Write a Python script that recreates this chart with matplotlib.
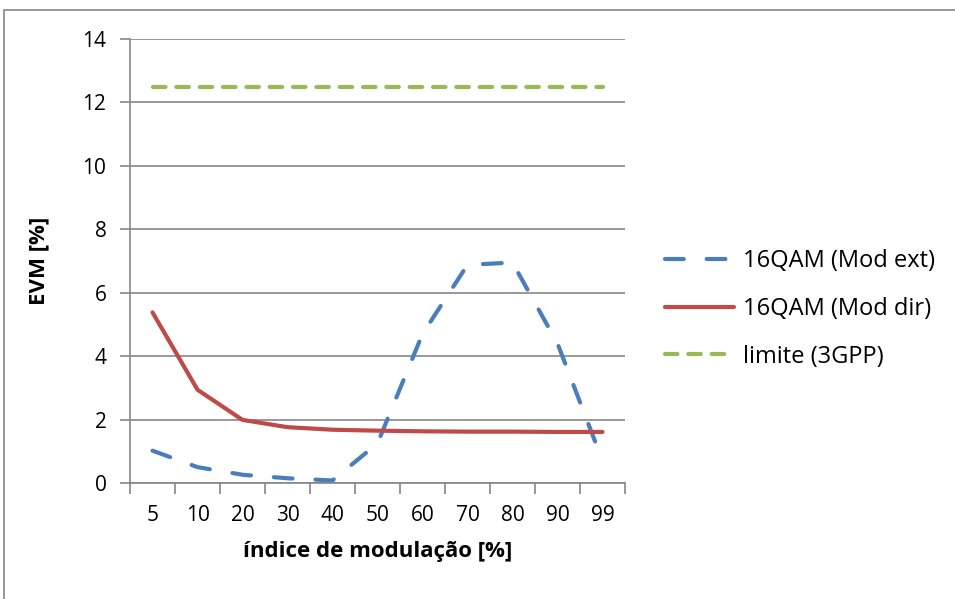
import numpy as np
import matplotlib.pyplot as plt
from matplotlib.patches import Rectangle

categories = ['5', '10', '20', '30', '40', '50', '60', '70', '80', '90', '99']
evm_ext = [1.02, 0.50, 0.26, 0.15, 0.08, 1.25, 4.7, 6.88, 6.95, 4.4, 0.7]
evm_dir = [5.38, 2.94, 1.99, 1.76, 1.68, 1.65, 1.63, 1.62, 1.62, 1.61, 1.61]
limite = [12.5] * len(categories)

plt.rcParams['font.family'] = ['Open Sans', 'DejaVu Sans']
grey = '#868686'
fs = 15

fig = plt.figure(figsize=(9.55, 5.99), dpi=100)
fig.patches.append(Rectangle((4 / 955, -0.1), 1.2, (599 - 10) / 599 + 0.1,
                             transform=fig.transFigure, fill=False,
                             edgecolor=grey, linewidth=1.2))
ax = fig.add_axes([130 / 955, (599 - 483) / 599, 495 / 955, 444 / 599])

x = np.arange(len(categories))
ax.plot(x, evm_ext, color='#4A7EBB', lw=3, dashes=(4.5, 5.5), dash_capstyle='round',
        label='16QAM (Mod ext)')
ax.plot(x, evm_dir, color='#BE4B48', lw=3, solid_capstyle='round',
        label='16QAM (Mod dir)')
ax.plot(x, limite, color='#98B954', lw=3, dashes=(3, 2.6), dash_capstyle='round',
        label='limite (3GPP)')

ax.set_xlim(-0.5, len(categories) - 0.5)
ax.set_ylim(0, 14)
ax.set_yticks(range(0, 15, 2))
ax.set_xticks(x)
ax.set_xticklabels(categories)
ax.set_xticks(np.arange(-0.5, len(categories)), minor=True)
ax.tick_params(axis='x', which='major', length=0, pad=16, labelsize=fs)
ax.tick_params(axis='x', which='minor', length=8, color=grey, width=1.2)
ax.tick_params(axis='y', length=7, color=grey, width=1.2, labelsize=fs, pad=10)
ax.grid(axis='y', color=grey, lw=1.2)
ax.set_axisbelow(True)
for s in ['top', 'right']:
    ax.spines[s].set_visible(False)
for s in ['left', 'bottom']:
    ax.spines[s].set_color(grey)
    ax.spines[s].set_linewidth(1.2)

ax.set_xlabel('índice de modulação [%]', fontsize=16, fontweight='bold', labelpad=11)
ax.set_ylabel('EVM [%]', fontsize=16, fontweight='bold', labelpad=24)

ax.legend(loc='center left', bbox_to_anchor=(1.038, 0.392), frameon=False,
          fontsize=17, handlelength=2.9, labelspacing=1.0, handletextpad=0.4)

fig.savefig('out.png', dpi=100)
